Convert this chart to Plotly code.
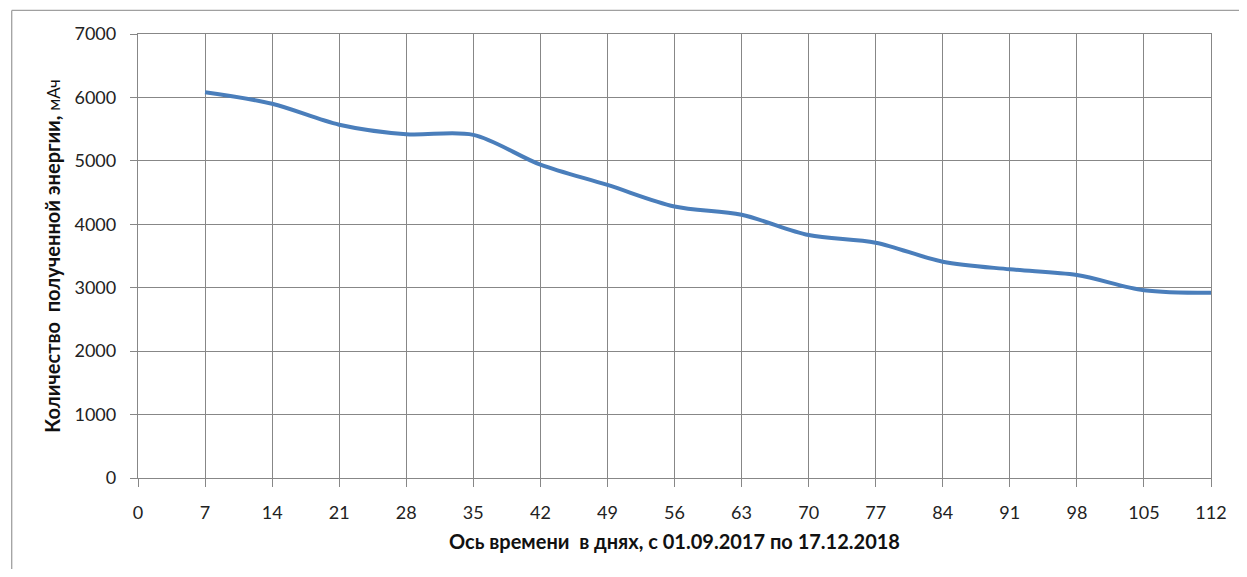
import plotly.graph_objects as go

days = [7, 14, 21, 28, 35, 42, 49, 56, 63, 70, 77, 84, 91, 98, 105, 112]
energy = [6080, 5900, 5570, 5420, 5410, 4940, 4620, 4280, 4150, 3830, 3710, 3410, 3290, 3200, 2960, 2920]
x_ticks = list(range(0, 113, 7))
y_ticks = list(range(0, 7001, 1000))

FONT = "Lato"
GRID = "#878787"

fig = go.Figure()
fig.add_trace(go.Scatter(
    x=days, y=energy, mode="lines",
    line=dict(color="#4a7ebb", width=4, shape="spline", smoothing=0.9),
    showlegend=False, hoverinfo="x+y",
))

fig.update_layout(
    width=1231, height=561,
    margin=dict(l=130, r=25, t=26, b=91),
    paper_bgcolor="white", plot_bgcolor="white",
    font=dict(family=FONT, size=18, color="#222"),
    xaxis=dict(
        range=[0, 112], tickvals=x_ticks, ticktext=[str(v) for v in x_ticks],
        showgrid=True, gridcolor=GRID, gridwidth=1.3,
        showline=True, linecolor=GRID, linewidth=1.3, mirror=True,
        ticks="outside", ticklen=8, tickcolor=GRID, tickwidth=1.3,
        ticklabelstandoff=10,
        zeroline=False,
        title=dict(text="<b>Ось времени  в днях, с 01.09.2017 по 17.12.2018</b>",
                   font=dict(family=FONT, size=20, color="#111"), standoff=13),
    ),
    yaxis=dict(
        range=[0, 7000], tickvals=y_ticks, ticktext=[str(v) for v in y_ticks],
        showgrid=True, gridcolor=GRID, gridwidth=1.3,
        showline=True, linecolor=GRID, linewidth=1.3, mirror=True,
        ticks="outside", ticklen=7, tickcolor=GRID, tickwidth=1.3,
        ticklabelstandoff=10,
        zeroline=False,
        title=dict(text="<b>Количество  полученной энергии, </b><span style='font-size:17px;font-weight:normal'>мАч</span>",
                   font=dict(family=FONT, size=20, color="#111"), standoff=8),
    ),
    shapes=[
        dict(type="line", xref="paper", yref="paper", x0=-0.1177, x1=1.04, y0=1.053, y1=1.053,
             line=dict(color="#a0a0a0", width=1.3)),
        dict(type="line", xref="paper", yref="paper", x0=-0.1177, x1=-0.1177, y0=-0.3, y1=1.053,
             line=dict(color="#a0a0a0", width=1.3)),
    ],
)

fig.write_html("out.html")
